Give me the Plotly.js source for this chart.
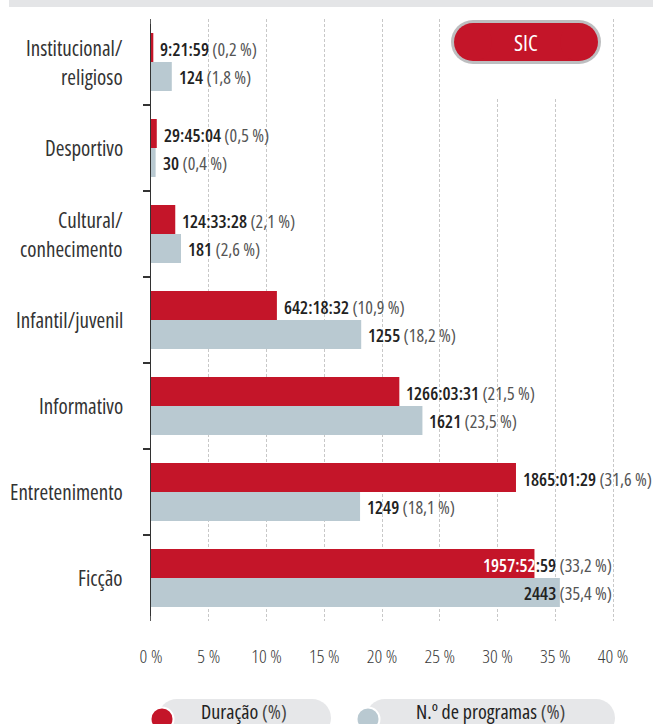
<!DOCTYPE html>
<html>
<head>
<meta charset="utf-8">
<script src="https://cdn.plot.ly/plotly-3.0.1.min.js"></script>
<style>
html,body{margin:0;padding:0;background:#fff;}
#chart{width:653px;height:724px;}
text, tspan{font-stretch:75%;}
</style>
</head>
<body>
<div id="chart"></div>
<script>
// ---- data ----
const categories = ['Institucional/religioso', 'Desportivo', 'Cultural/conhecimento', 'Infantil/juvenil', 'Informativo', 'Entretenimento', 'Ficção'];
const categoryLines = [['Institucional/', 'religioso'], ['Desportivo'], ['Cultural/', 'conhecimento'], ['Infantil/juvenil'], ['Informativo'], ['Entretenimento'], ['Ficção']];
const durationPct = [0.2, 0.5, 2.1, 10.9, 21.5, 31.6, 33.2];
const durationText = ['9:21:59', '29:45:04', '124:33:28', '642:18:32', '1266:03:31', '1865:01:29', '1957:52:59'];
const programsPct = [1.8, 0.4, 2.6, 18.2, 23.5, 18.1, 35.4];
const programsCount = ['124', '30', '181', '1255', '1621', '1249', '2443'];
const xTickVals = [0, 5, 10, 15, 20, 25, 30, 35, 40];
const seriesNames = ['Duração (%)', 'N.º de programas (%)'];
const channel = 'SIC';

// ---- style ----
const RED = '#C41529';
const GREY = '#B9C9D1';
const FONT = '"Open Sans", "DejaVu Sans Condensed", sans-serif';
const W = 653, H = 724;
const M = {l: 151, r: 28, t: 19, b: 103};
const PW = W - M.l - M.r, PH = H - M.t - M.b;
const pxScale = 11.55; // pixels per percent
const xMax = PW / pxScale;
const px = v => (v - M.l) / PW;
const py = v => (H - M.b - v) / PH;

const fmtPct = v => v.toFixed(1).replace('.', ',') + ' %';

const traces = [
  {type: 'bar', orientation: 'h', name: seriesNames[0], y: categories, x: durationPct,
   marker: {color: RED, line: {width: 0}}, hoverinfo: 'skip'},
  {type: 'bar', orientation: 'h', name: seriesNames[1], y: categories, x: programsPct,
   marker: {color: GREY, line: {width: 0}}, hoverinfo: 'skip'}
];

const annotations = [];
categoryLines.forEach((lines, i) => {
  lines.forEach((t, j) => {
    const shift = lines.length === 1 ? 0 : (j === 0 ? 14.5 : -14.5);
    annotations.push({xref: 'paper', yref: 'y', x: 0, y: categories[i], xanchor: 'right', yanchor: 'middle',
      xshift: -26, yshift: shift, text: t, showarrow: false, font: {family: FONT, size: 21, color: '#333'}});
  });
});
function barLabel(value, strong, isRed, i) {
  const right = value > 33;
  let head = strong;
  if (right && isRed) head = '<span style="color:#fff">' + strong.slice(0, 7) + '</span>' + strong.slice(7);
  const text = '<span style="font-weight:600">' + head + '</span> <span style="color:#555">(' + fmtPct(value) + ')</span>';
  annotations.push({xref: 'x', yref: 'y', x: right ? 40 : value, y: categories[i],
    xanchor: right ? 'right' : 'left', yanchor: 'middle', xshift: right ? 1 : 5,
    yshift: isRed ? 13.5 : -15, text: text, showarrow: false,
    font: {family: FONT, size: 18, color: '#222'}});
}
durationPct.forEach((v, i) => barLabel(v, durationText[i], true, i));
programsPct.forEach((v, i) => barLabel(v, programsCount[i], false, i));

const shapes = [];
function pill(x0, y0, x1, y1, color) {
  const r = (y1 - y0) / 2;
  shapes.push({type: 'rect', xref: 'paper', yref: 'paper', x0: px(x0 + r), x1: px(x1 - r), y0: py(y1), y1: py(y0),
    fillcolor: color, line: {width: 0}, layer: 'above'});
  shapes.push({type: 'circle', xref: 'paper', yref: 'paper', x0: px(x0), x1: px(x0 + 2 * r), y0: py(y1), y1: py(y0),
    fillcolor: color, line: {width: 0}, layer: 'above'});
  shapes.push({type: 'circle', xref: 'paper', yref: 'paper', x0: px(x1 - 2 * r), x1: px(x1), y0: py(y1), y1: py(y0),
    fillcolor: color, line: {width: 0}, layer: 'above'});
}
function dot(cx, cy, r, color) {
  shapes.push({type: 'circle', xref: 'paper', yref: 'paper', x0: px(cx - r), x1: px(cx + r), y0: py(cy + r), y1: py(cy - r),
    fillcolor: color, line: {width: 2, color: '#fff'}, layer: 'above'});
}
function blank(x0, y0, x1, y1) {
  shapes.push({type: 'rect', xref: 'paper', yref: 'paper', x0: px(x0), x1: px(x1), y0: py(y1), y1: py(y0),
    fillcolor: '#fff', line: {width: 0}, layer: 'above'});
}
shapes.push({type: 'rect', xref: 'paper', yref: 'paper', x0: px(9), x1: px(653), y0: py(7), y1: py(0),
  fillcolor: '#E4E5E7', line: {width: 0}, layer: 'above'});
// hide the outer boundary ticks of the category axis
blank(138, 14, 150.2, 24);
blank(138, 616, 150.2, 626);
// white area behind badge
blank(446, 19, 608, 97);
pill(451, 20, 601, 64, '#BDBEC0');
pill(454, 23, 598, 61, RED);
annotations.push({xref: 'paper', yref: 'paper', x: px(526), y: py(42), xanchor: 'center', yanchor: 'middle',
  text: channel, showarrow: false, font: {family: FONT, size: 22, color: '#fff', weight: 500}});
pill(158, 699, 331, 737, '#E6E7E9');
pill(366, 699, 615, 737, '#E6E7E9');
dot(162, 719, 11.5, RED);
dot(368, 719, 11.5, GREY);
annotations.push({xref: 'paper', yref: 'paper', x: px(244), y: py(711), xanchor: 'center', yanchor: 'middle', borderpad: 0,
  text: 'Duração <span style="color:#444">(%)</span>', showarrow: false, font: {family: FONT, size: 20, color: '#222'}});
annotations.push({xref: 'paper', yref: 'paper', x: px(490), y: py(711), xanchor: 'center', yanchor: 'middle', borderpad: 0,
  text: 'N.º de programas <span style="color:#444">(%)</span>', showarrow: false, font: {family: FONT, size: 20, color: '#222'}});

const layout = {
  width: W, height: H,
  margin: M,
  paper_bgcolor: '#fff', plot_bgcolor: '#fff',
  showlegend: false,
  barmode: 'group', bargap: 0.326, bargroupgap: 0,
  font: {family: FONT},
  xaxis: {range: [0, xMax], tickvals: xTickVals, ticktext: xTickVals.map(v => v + ' %'),
    showgrid: true, gridcolor: '#C8C8C8', griddash: '3px,2px', gridwidth: 1,
    zeroline: false, showline: false, ticks: '', ticklabelstandoff: 22,
    tickfont: {family: FONT, size: 19, color: '#3a3a3a', weight: 300}, fixedrange: true},
  yaxis: {type: 'category', categoryorder: 'array', categoryarray: categories, autorange: 'reversed',
    showline: true, linecolor: '#333', linewidth: 1.5, showgrid: false, zeroline: false,
    ticks: 'outside', tickson: 'boundaries', ticklen: 7, tickcolor: '#333', tickwidth: 1.5,
    showticklabels: false, fixedrange: true},
  annotations: annotations,
  shapes: shapes
};
Plotly.newPlot('chart', traces, layout, {displayModeBar: false, staticPlot: true});
</script>
</body>
</html>
